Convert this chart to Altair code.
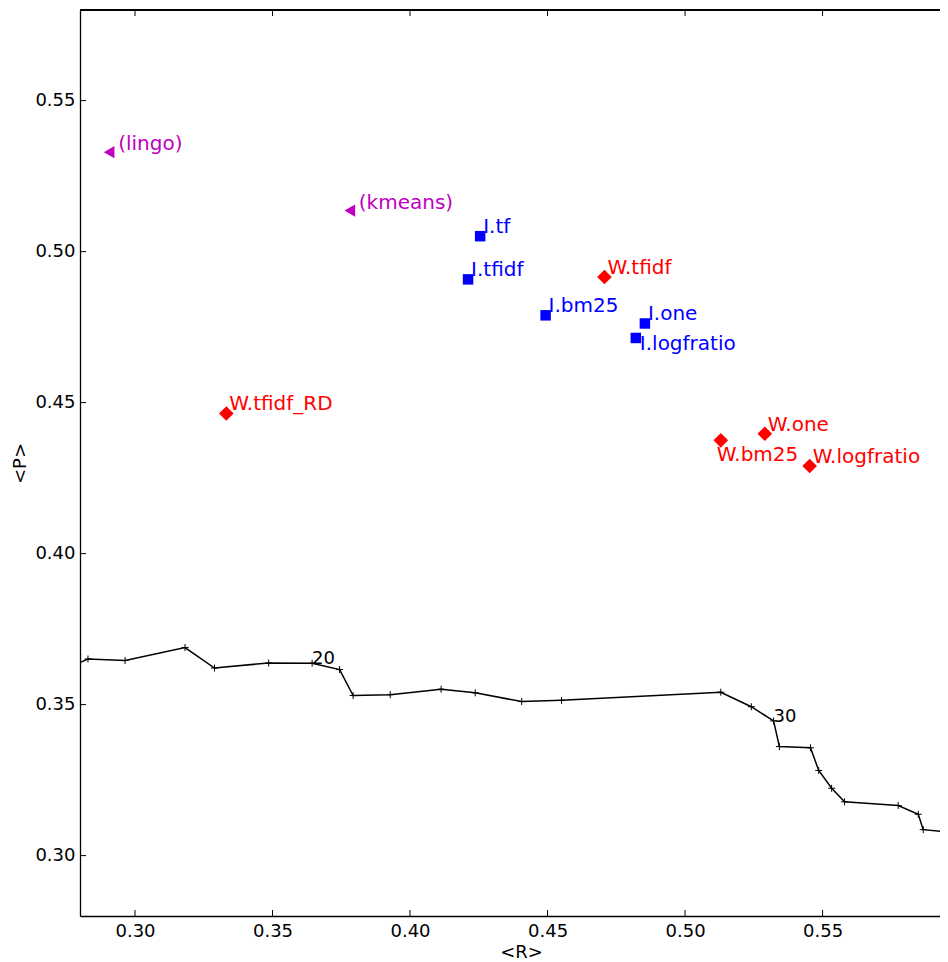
import altair as alt
import pandas as pd

# ---- data -------------------------------------------------------------
methods = ["(lingo)", "(kmeans)",
           "I.tf", "I.tfidf", "I.bm25", "I.one", "I.logfratio",
           "W.tfidf", "W.tfidf_RD", "W.one", "W.bm25", "W.logfratio"]
groups = ["C", "C", "I", "I", "I", "I", "I", "W", "W", "W", "W", "W"]
recall = [0.2906, 0.3781,
          0.4255, 0.4211, 0.4493, 0.4854, 0.4821,
          0.4707, 0.3332, 0.5290, 0.5130, 0.5453]
precision = [0.5329, 0.5136,
             0.5051, 0.4908, 0.4789, 0.4762, 0.4714,
             0.4916, 0.4464, 0.4397, 0.4375, 0.4290]

curve_k = list(range(14, 40))
curve_r = [0.2767, 0.2829, 0.2964, 0.3182, 0.3289, 0.3486, 0.3644, 0.3744,
           0.3793, 0.3928, 0.4113, 0.4237, 0.4406, 0.4551, 0.5130, 0.5241,
           0.5322, 0.5343, 0.5456, 0.5486, 0.5533, 0.5580, 0.5775, 0.5848,
           0.5866, 0.6000]
curve_p = [0.3626, 0.3651, 0.3646, 0.3689, 0.3621, 0.3638, 0.3637, 0.3616,
           0.3530, 0.3533, 0.3551, 0.3539, 0.3510, 0.3514, 0.3541, 0.3493,
           0.3446, 0.3361, 0.3357, 0.3282, 0.3223, 0.3178, 0.3166, 0.3137,
           0.3086, 0.3074]

x_ticks = [0.30, 0.35, 0.40, 0.45, 0.50, 0.55]
y_ticks = [0.30, 0.35, 0.40, 0.45, 0.50, 0.55]

# ---- frames -------------------------------------------------------------
pts = pd.DataFrame({"method": methods, "group": groups,
                    "R": recall, "P": precision})
curve = pd.DataFrame({"k": curve_k, "R": curve_r, "P": curve_p})
curve["lab"] = [str(k) if k % 10 == 0 else "" for k in curve_k]
xt = pd.DataFrame({"v": x_ticks})
yt = pd.DataFrame({"v": y_ticks})

W, H = 860, 906
FONT = "DejaVu Sans"

xs = alt.Scale(domain=[0.28, 0.5927], nice=False, zero=False)
ys = alt.Scale(domain=[0.28, 0.58], nice=False, zero=False)
X = alt.X("R:Q", scale=xs, title="<R>",
          axis=alt.Axis(values=x_ticks, format=".2f", ticks=False, domain=True,
                        domainColor="black", domainWidth=1.3,
                        grid=False, labelFontSize=18, labelPadding=6,
                        labelFont=FONT, titleFont=FONT,
                        labelColor="black", titleFontSize=18,
                        titleFontWeight="normal", titleX=441, titleY=36,
                        titleBaseline="middle", titleAlign="center",
                        titleColor="black"))
Y = alt.Y("P:Q", scale=ys, title="<P>",
          axis=alt.Axis(values=y_ticks, format=".2f", ticks=False, domain=True,
                        domainColor="black", domainWidth=1.3,
                        grid=False, labelFontSize=18, labelPadding=5,
                        labelFont=FONT, titleFont=FONT,
                        labelColor="black", titleFontSize=18,
                        titleFontWeight="normal", titleX=-60, titleY=H / 2,
                        titleBaseline="middle", titleAlign="center",
                        titleColor="black"))

color_scale = alt.Scale(domain=["C", "I", "W"],
                        range=["#bf00bf", "#0000ff", "#ff0000"])
C = alt.Color("group:N", scale=color_scale, legend=None)

line = alt.Chart(curve).mark_line(color="black", strokeWidth=1.5, clip=True).encode(
    x=X, y=Y, order="k:Q")
plus = alt.Chart(curve).mark_point(
    shape="M-1,0H1M0,-1V1", size=49, filled=False, color="black",
    strokeWidth=1, opacity=1, clip=True).encode(x=X, y=Y)
klab = alt.Chart(curve).transform_filter("datum.lab != ''").mark_text(
    align="left", baseline="alphabetic", dx=0, dy=1, fontSize=18,
    font=FONT, color="black").encode(x=X, y=Y, text="lab:N")

base = alt.Chart(pts).encode(x=X, y=Y, color=C)
tri = base.transform_filter("datum.group == 'C'").mark_point(
    shape="triangle-left", size=150, filled=True, opacity=1)
sq = base.transform_filter("datum.group == 'I'").mark_point(
    shape="square", size=110, filled=True, opacity=1)
dia = base.transform_filter("datum.group == 'W'").mark_point(
    shape="diamond", size=215, filled=True, opacity=1)

txt = dict(font=FONT, fontSize=20, align="left", baseline="alphabetic")
lab_default = base.transform_filter(
    "datum.group != 'C' && datum.method != 'I.logfratio' && datum.method != 'W.bm25'"
).mark_text(dx=3, dy=-3, **txt).encode(text="method:N")
lab_far = base.transform_filter("datum.group == 'C'").mark_text(
    dx=9, dy=-2, **txt).encode(text="method:N")
lab_below_r = base.transform_filter("datum.method == 'I.logfratio'").mark_text(
    dx=4, dy=12, **txt).encode(text="method:N")
lab_below = base.transform_filter("datum.method == 'W.bm25'").mark_text(
    dx=-4, dy=21, **txt).encode(text="method:N")

tick_b = alt.Chart(xt).mark_rule(color="black", strokeWidth=1).encode(
    x=alt.X("v:Q", scale=xs), y=alt.value(H), y2=alt.value(H - 6))
tick_t = alt.Chart(xt).mark_rule(color="black", strokeWidth=1).encode(
    x=alt.X("v:Q", scale=xs), y=alt.value(0), y2=alt.value(6))
tick_l = alt.Chart(yt).mark_rule(color="black", strokeWidth=1).encode(
    y=alt.Y("v:Q", scale=ys), x=alt.value(0), x2=alt.value(6))
top_border = alt.Chart(xt).mark_rule(color="black", strokeWidth=1.3).encode(
    x=alt.value(0), x2=alt.value(W), y=alt.value(0))

chart = alt.layer(
    line, plus, klab, tri, sq, dia,
    lab_default, lab_far, lab_below_r, lab_below,
    tick_b, tick_t, tick_l, top_border,
).properties(
    width=W, height=H,
    autosize=alt.AutoSizeParams(type="none"),
    padding={"left": 72, "top": 2, "right": 0, "bottom": 46},
).configure_view(stroke=None)

chart.save("out.html", embed_options={"renderer": "svg", "actions": False})
